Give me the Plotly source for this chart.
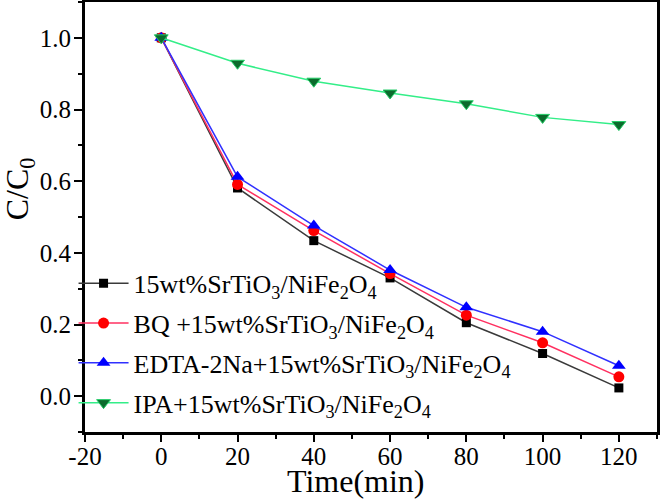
import plotly.graph_objects as go

time = [0, 20, 40, 60, 80, 100, 120]
s1 = [1.0, 0.581, 0.434, 0.33, 0.205, 0.119, 0.023]
s2 = [1.0, 0.591, 0.462, 0.342, 0.226, 0.149, 0.054]
s3 = [1.0, 0.612, 0.476, 0.352, 0.248, 0.180, 0.085]
s4 = [1.0, 0.929, 0.879, 0.846, 0.816, 0.778, 0.758]
names = [
    "15wt%SrTiO<sub>3</sub>/NiFe<sub>2</sub>O<sub>4</sub>",
    "BQ +15wt%SrTiO<sub>3</sub>/NiFe<sub>2</sub>O<sub>4</sub>",
    "EDTA-2Na+15wt%SrTiO<sub>3</sub>/NiFe<sub>2</sub>O<sub>4</sub>",
    "IPA+15wt%SrTiO<sub>3</sub>/NiFe<sub>2</sub>O<sub>4</sub>",
]
xtickvals = [-20, 0, 20, 40, 60, 80, 100, 120]
xticktext = ["-20", "0", "20", "40", "60", "80", "100", "120"]
ytickvals = [0.0, 0.2, 0.4, 0.6, 0.8, 1.0]
yticktext = ["0.0", "0.2", "0.4", "0.6", "0.8", "1.0"]
xtitle = "Time(min)"
ytitle = "C/C<sub>0</sub>"

FONT = "Liberation Serif, Times New Roman, serif"
fig = go.Figure()
fig.add_trace(go.Scatter(x=time, y=s1, name=names[0], mode="lines+markers", legendgroup="a",
                         line=dict(color="#3a3a3a", width=1.5),
                         marker=dict(symbol="square", size=9, color="#000000")))
fig.add_trace(go.Scatter(x=time, y=s2, name=names[1], mode="lines+markers", legendgroup="b",
                         line=dict(color="#ff3060", width=1.5),
                         marker=dict(symbol="circle", size=11, color="#ff0000")))
fig.add_trace(go.Scatter(x=time, y=s3, name=names[2], mode="lines+markers", legendgroup="c",
                         line=dict(color="#3030ff", width=1.5),
                         marker=dict(symbol="triangle-up", size=12, color="#0000ff")))
fig.add_trace(go.Scatter(x=time, y=s4, name=names[3], mode="lines+markers", legendgroup="d",
                         line=dict(color="#33ee88", width=1.5),
                         marker=dict(symbol="triangle-down", size=12, color="#0b6b2c",
                                     line=dict(color="#22cc66", width=1))))

fig.update_layout(
    width=662, height=502,
    margin=dict(l=85, r=5, t=2, b=70),
    paper_bgcolor="white", plot_bgcolor="white",
    font=dict(family=FONT, color="black", size=25),
    showlegend=True,
    legend=dict(x=-0.02, y=0.012, xanchor="left", yanchor="bottom",
                bgcolor="rgba(0,0,0,0)", font=dict(size=26, family=FONT),
                tracegroupgap=3, itemwidth=50),
    xaxis=dict(range=[-20, 130], tickvals=xtickvals, ticktext=xticktext,
               automargin=False, ticklabelstandoff=-7,
               showgrid=False, zeroline=False, showline=True, linecolor="black",
               linewidth=3, mirror=True, ticks="outside", ticklen=7, tickwidth=2,
               tickcolor="black", tickfont=dict(size=25, family=FONT),
               minor=dict(dtick=10, ticks="outside", ticklen=4, tickwidth=2, tickcolor="black")),
    yaxis=dict(range=[-0.1, 1.1], tickvals=ytickvals, ticktext=yticktext,
               automargin=False, ticklabelstandoff=-2,
               showgrid=False, zeroline=False, showline=True, linecolor="black",
               linewidth=3, mirror=True, ticks="outside", ticklen=8, tickwidth=2,
               tickcolor="black", tickfont=dict(size=25, family=FONT),
               minor=dict(dtick=0.1, ticks="outside", ticklen=4, tickwidth=2, tickcolor="black")),
)
fig.add_annotation(text=xtitle, xref="paper", yref="paper", x=0.474, y=-0.115,
                   xanchor="center", yanchor="middle", showarrow=False,
                   font=dict(size=32, family=FONT, color="black"))
fig.add_annotation(text=ytitle, xref="paper", yref="paper", x=-0.115, y=0.565,
                   xanchor="center", yanchor="middle", showarrow=False, textangle=-90,
                   font=dict(size=32, family=FONT, color="black"))
fig.write_html("out.html", config={"displayModeBar": False},
               post_script="document.body.style.margin='0px';document.body.style.overflow='hidden';")
